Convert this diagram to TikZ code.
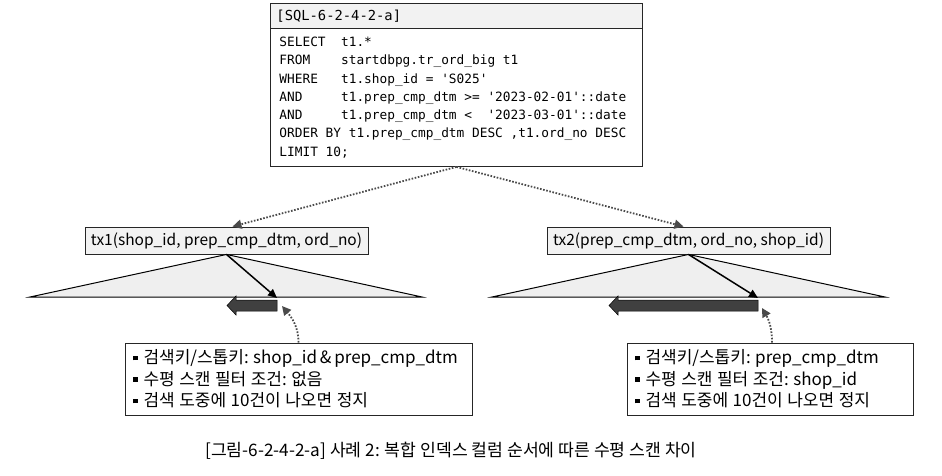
\documentclass[tikz,border=0pt]{standalone}
\usepackage{fontspec}
\usetikzlibrary{arrows.meta}
\newfontfamily\kr{Noto Sans CJK KR}
\newfontfamily\codefont{DejaVu Sans Mono}
\definecolor{boxfill}{HTML}{F2F2F2}
\definecolor{trifill}{HTML}{EFEFEF}
\definecolor{blockarrow}{HTML}{404040}
\definecolor{dotgray}{HTML}{4A4A4A}
\newcommand\codesize[1]{\codefont\fontsize{#1}{18.3}\selectfont}
% one monospace character cell of horizontal space
\newcommand\sk{\setbox0\hbox{0}\hskip\wd0\relax}
% word space and (unbreakable) space after a colon in the Korean texts
\newcommand\ws{\hspace{4.5pt}}
\newcommand\cs{\kern4.5pt\relax}
\tikzset{
  frame/.style={draw=black!85, line width=0.9pt},
  idxbox/.style={frame, fill=boxfill, minimum width=283pt, minimum height=27pt, inner sep=0pt, font=\kr\fontsize{15.5}{18}\selectfont},
  callout/.style={frame, fill=white, minimum height=72pt, inner xsep=8pt, inner ysep=0pt, align=left, anchor=center, font=\kr\fontsize{17}{21.5}\selectfont},
  tri/.style={draw=black, line width=1pt, fill=trifill},
  descarrow/.style={black, line width=1.5pt, -{Triangle[length=9pt,width=8pt]}},
  blockarr/.style={draw=black, line width=0.5pt, fill=blockarrow},
  dotarrow/.style={dotgray, line width=1.8pt, dash pattern=on 1.6pt off 1.6pt, -{Triangle[length=9pt,width=9pt]}},
}
\newcommand\bul{\raisebox{3.5pt}{\rule{4.5pt}{4.5pt}}\hspace{6pt}}
\begin{document}
\begin{tikzpicture}[x=1pt,y=-1pt]
\useasboundingbox (0,0) rectangle (942,476);
% SQL box
\node[frame, fill=boxfill, minimum width=372pt, minimum height=25pt, inner xsep=6pt, inner ysep=0pt, anchor=north west, text width=360pt, align=left,
  font=\codesize{13.8}] (sqlh) at (270,3) {[SQL-6-2-4-2-a]};
\node[frame, fill=white, minimum width=372pt, minimum height=138pt, inner xsep=9pt, inner ysep=0pt, anchor=north west, text width=354pt, align=left,
  font=\codesize{12.8}] (sqlb) at (270,28) {SELECT\sk\sk t1.*\\
FROM\sk\sk\sk\sk startdbpg.tr\_ord\_big\sk t1\\
WHERE\sk\sk\sk t1.shop\_id\sk=\sk'S025'\\
AND\sk\sk\sk\sk\sk t1.prep\_cmp\_dtm\sk>=\sk'2023-02-01'::date\\
AND\sk\sk\sk\sk\sk t1.prep\_cmp\_dtm\sk<\sk\sk'2023-03-01'::date\\
ORDER\sk BY\sk t1.prep\_cmp\_dtm\sk DESC\sk,t1.ord\_no\sk DESC\\
LIMIT\sk 10;};
% index boxes
\node[idxbox] (tx1) at (226.5,240.5) {tx1(shop\_id, prep\_cmp\_dtm, ord\_no)};
\node[idxbox] (tx2) at (688.5,240.5) {tx2(prep\_cmp\_dtm, ord\_no, shop\_id)};
\draw[dotarrow] (sqlb.south) -- ([xshift=6pt]tx1.north);
\draw[dotarrow] (sqlb.south) -- ([xshift=-5pt]tx2.north);
% triangles
\draw[tri] (tx1.south) -- (422,297) -- (30,297) -- cycle;
\draw[tri] (tx2.south) -- (885,297) -- (492,297) -- cycle;
% scan arrows
\coordinate (s1) at (277,298);
\coordinate (s2) at (758,298);
\draw[descarrow] (tx1.south) -- (s1);
\draw[descarrow] (tx2.south) -- (s2);
\draw[blockarr] (277,300) -- (236,300) -- (236,296) -- (227,305.5) -- (236,315) -- (236,311) -- (277,311) -- cycle;
\draw[blockarr] (758,300) -- (618,300) -- (618,296) -- (609,305.5) -- (618,315) -- (618,311) -- (758,311) -- cycle;
\coordinate (b1) at (282,306);
\coordinate (b2) at (762,308);
% callouts
\node[callout, minimum width=347pt, text width=331pt] (c1) at (298.5,379) {\bul 검색키/스톱키:\cs shop\_id\,\&\,prep\_cmp\_dtm\\
\bul 수평\ws 스캔\ws 필터\ws 조건:\cs 없음\\
\bul 검색\ws 도중에\ws 10건이\ws 나오면\ws 정지};
\node[callout, minimum width=286pt, text width=270pt] (c2) at (770,379) {\bul 검색키/스톱키:\cs prep\_cmp\_dtm\\
\bul 수평\ws 스캔\ws 필터\ws 조건:\cs shop\_id\\
\bul 검색\ws 도중에\ws 10건이\ws 나오면\ws 정지};
\draw[dotarrow] ([xshift=0pt]c1.north) to[out=90,in=-50] (b1);
\draw[dotarrow] ([xshift=2pt]c2.north) to[out=90,in=-60] (b2);
% caption
\node[font=\kr\fontsize{17.2}{20}\selectfont, inner sep=0pt] (cap) at (451,451) {[그림-6-2-4-2-a] 사례 2: 복합 인덱스 컬럼 순서에 따른 수평 스캔 차이};
\end{tikzpicture}
\end{document}
